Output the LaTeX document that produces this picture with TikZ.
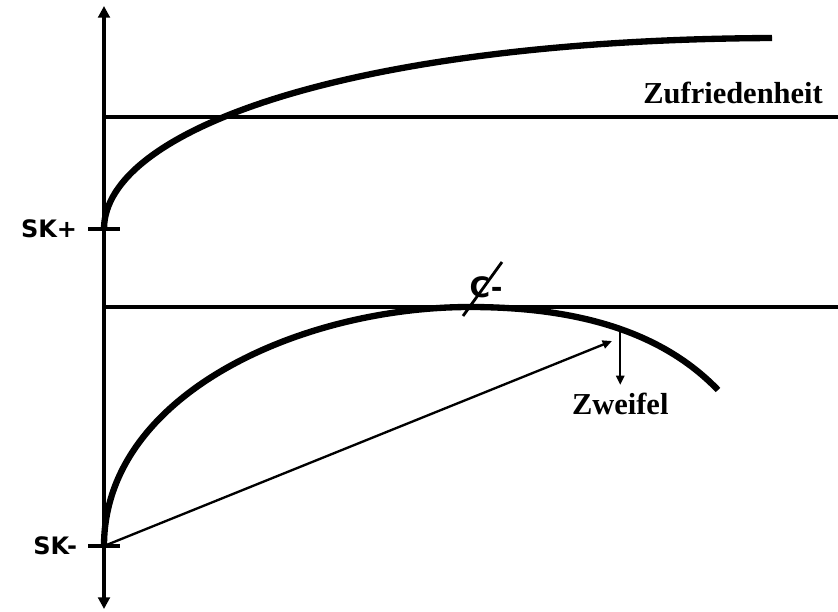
\documentclass[tikz,border=0pt]{standalone}
\usepackage{fontspec}
\setmainfont{Liberation Serif}
\newfontfamily\skfont{DejaVu Sans Bold}
\newfontfamily\wordfont{Liberation Serif Bold}
\usetikzlibrary{positioning,arrows.meta}

\begin{document}
\begin{tikzpicture}[x=0.03cm,y=-0.03cm,node distance=0mm,
        curve/.style={line width=5.4pt},
        level/.style={line width=3.3pt},
        sklabel/.style={font=\skfont\fontsize{20.5}{20.5}\selectfont,inner sep=0pt},
        wordlabel/.style={font=\wordfont\fontsize{26}{26}\selectfont,inner sep=0pt}]
        \useasboundingbox (0,0) rectangle (838,611);
        % axis and its ticks
        \coordinate (top) at (104,6);
        \coordinate (bot) at (104,609);
        \coordinate (skp) at (104,229);
        \coordinate (skm) at (104,546);
        \coordinate (skpl) at (88,229);
        \coordinate (skpr) at (120,229);
        \coordinate (skml) at (88,546);
        \coordinate (skmr) at (120,546);
        \draw[line width=3.2pt,{Triangle[length=10pt,width=10pt]}-{Triangle[length=10pt,width=10pt]}] (top) -- (bot);
        \draw[line width=3.8pt] (skpl) -- (skpr);
        \draw[line width=3.8pt] (skml) -- (skmr);
        \node[sklabel,left=3.2mm of skpl] (skplus) {SK+};
        \node[sklabel,left=3.2mm of skml] (skminus) {SK-};
        % levels
        \coordinate (zfl) at (104,117);
        \coordinate (zfr) at (838,117);
        \coordinate (cl) at (104,307);
        \coordinate (cr) at (838,307);
        \draw[level] (zfl) -- (zfr);
        \draw[level] (cl) -- (cr);
        \node[wordlabel,anchor=base east] (zufr) at (823,103) {Zufriedenheit};
        % curves
        \coordinate (peak) at (470,307);
        \coordinate (tail) at (718,390);
        \coordinate (upend) at (772,38);
        \draw[curve] (skp) .. controls (104,130) and (350,40) .. (upend);
        \draw[curve] (skm) .. controls (104,395) and (300,307) .. (peak)
            .. controls (590,307) and (668,338) .. (tail) coordinate[pos=0.5] (zwtop);
        % comparison level mark
        \coordinate (cs1) at (463,316);
        \coordinate (cs2) at (502,262);
        \node[sklabel,font=\skfont\fontsize{24}{24}\selectfont] (cminus) at (486,287) {C-};
        \draw[line width=2.4pt] (cs1) -- (cs2);
        % arrows
        \coordinate (tip) at (612,341);
        \coordinate (zwbot) at ([yshift=-56*0.03cm]zwtop);
        \draw[line width=2pt,-{Triangle[length=8pt,width=7pt]}] (skm) -- (tip);
        \draw[line width=2pt,-{Triangle[length=8pt,width=7pt]}] (zwtop) -- (zwbot);
        \node[wordlabel,below=2.4mm of zwbot] (zweifel) {Zweifel};
    \end{tikzpicture}
\end{document}
